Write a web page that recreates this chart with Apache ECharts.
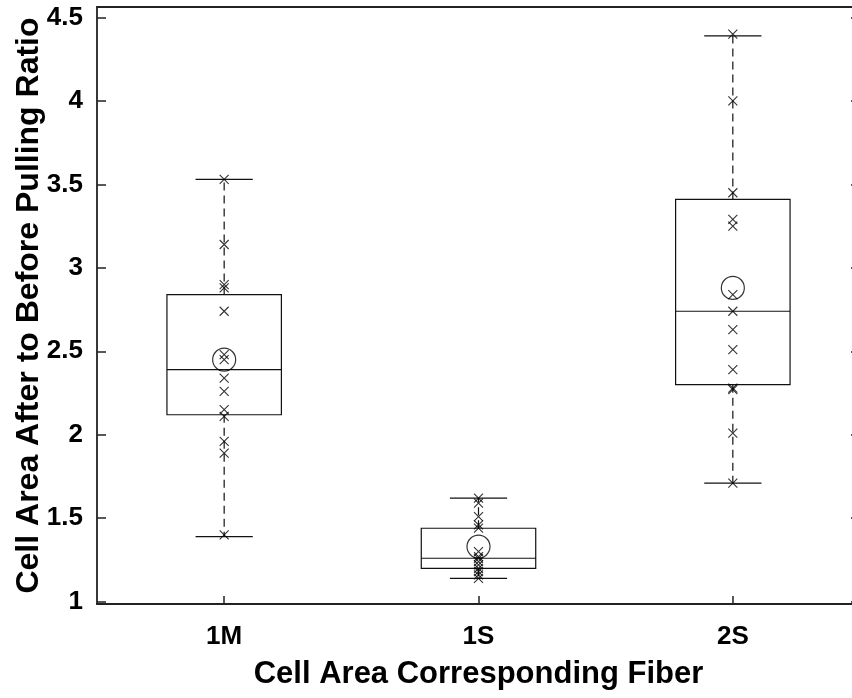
<!DOCTYPE html>
<html>
<head>
<meta charset="utf-8">
<script src="https://cdn.jsdelivr.net/npm/echarts@6/dist/echarts.min.js"></script>
<style>
  html, body { margin: 0; padding: 0; background: #fff; overflow: hidden; width: 852px; height: 698px; }
  #chart { width: 860px; height: 698px; }
</style>
</head>
<body>
<div id="chart"></div>
<script>
// ---- data ----
var categories = ['1M', '1S', '2S'];
var boxMin    = [1.39, 1.14, 1.71];
var boxQ1     = [2.12, 1.20, 2.30];
var boxMedian = [2.39, 1.26, 2.74];
var boxQ3     = [2.84, 1.44, 3.41];
var boxMax    = [3.53, 1.62, 4.39];
var means     = [2.45, 1.33, 2.88];
var points1M = [3.53, 3.14, 2.90, 2.88, 2.74, 2.48, 2.45, 2.34, 2.26, 2.15, 2.11, 1.96, 1.89, 1.40];
var points1S = [1.62, 1.59, 1.51, 1.46, 1.44, 1.30, 1.27, 1.26, 1.24, 1.22, 1.20, 1.18, 1.16, 1.14];
var points2S = [4.40, 4.00, 3.45, 3.29, 3.25, 2.84, 2.74, 2.63, 2.51, 2.39, 2.28, 2.27, 2.01, 1.71];
var yTicks = [1, 1.5, 2, 2.5, 3, 3.5, 4, 4.5];
var yMin = 0.986, yMax = 4.563;
var xTitle = 'Cell Area Corresponding Fiber';
var yTitle = 'Cell Area After to Before Pulling Ratio';

// ---- build series data ----
var boxData = categories.map(function (c, i) {
  return [i, boxMin[i], boxQ1[i], boxMedian[i], boxQ3[i], boxMax[i]];
});
var pointGroups = [points1M, points1S, points2S];
var scatterData = [];
pointGroups.forEach(function (arr, i) {
  arr.forEach(function (v) { scatterData.push([i, v]); });
});
var meanData = means.map(function (v, i) { return [i, v]; });

var FONT = "'Liberation Sans', Arial, Helvetica, sans-serif";
var AXIS_COLOR = '#222222';

function renderBox(params, api) {
  var idx = api.value(0);
  var vMin = api.value(1), q1 = api.value(2), med = api.value(3), q3 = api.value(4), vMax = api.value(5);
  var pMin = api.coord([idx, vMin]);
  var pQ1 = api.coord([idx, q1]);
  var pMed = api.coord([idx, med]);
  var pQ3 = api.coord([idx, q3]);
  var pMax = api.coord([idx, vMax]);
  var band = api.size([1, 0])[0];
  var hw = band * 0.225;
  var cw = band * 0.1125;
  var x = pMed[0];
  var solid = { stroke: '#111', lineWidth: 1.2, fill: null };
  var dashed = { stroke: '#111', lineWidth: 1.2, lineDash: [8, 5] };
  return {
    type: 'group',
    children: [
      { type: 'line', shape: { x1: x, y1: pQ3[1], x2: x, y2: pMax[1] }, style: dashed },
      { type: 'line', shape: { x1: x, y1: pQ1[1], x2: x, y2: pMin[1] }, style: dashed },
      { type: 'line', shape: { x1: x - cw, y1: pMax[1], x2: x + cw, y2: pMax[1] }, style: solid },
      { type: 'line', shape: { x1: x - cw, y1: pMin[1], x2: x + cw, y2: pMin[1] }, style: solid },
      { type: 'rect', shape: { x: x - hw, y: pQ3[1], width: hw * 2, height: pQ1[1] - pQ3[1] }, style: { stroke: '#111', lineWidth: 1.2, fill: 'rgba(0,0,0,0)' } },
      { type: 'line', shape: { x1: x - hw, y1: pMed[1], x2: x + hw, y2: pMed[1] }, style: solid }
    ]
  };
}

var chart = echarts.init(document.getElementById('chart'), null, { renderer: 'canvas' });
var option = {
  backgroundColor: '#ffffff',
  animation: false,
  grid: { left: 97, top: 7, width: 763, height: 597, containLabel: false, outerBoundsMode: 'none' },
  xAxis: [
    {
      type: 'category',
      data: categories,
      position: 'bottom',
      boundaryGap: true,
      axisLine: { show: true, lineStyle: { color: AXIS_COLOR, width: 1.8 } },
      axisTick: { show: true, inside: true, length: 8, alignWithLabel: true, lineStyle: { color: AXIS_COLOR, width: 1.5 } },
      axisLabel: { show: true, margin: 20, color: '#000', fontFamily: FONT, fontWeight: 'bold', fontSize: 26 },
      splitLine: { show: false },
      name: xTitle,
      nameLocation: 'middle',
      nameGap: 55,
      nameMoveOverlap: false,
      nameTextStyle: { color: '#000', fontFamily: FONT, fontWeight: 'bold', fontSize: 31 }
    },
    {
      type: 'category',
      data: categories,
      position: 'top',
      boundaryGap: true,
      axisLine: { show: true, lineStyle: { color: AXIS_COLOR, width: 1.8 } },
      axisTick: { show: false },
      axisLabel: { show: false },
      splitLine: { show: false }
    }
  ],
  yAxis: [
    {
      type: 'value',
      min: yMin,
      max: yMax,
      position: 'left',
      axisLine: { show: true, lineStyle: { color: AXIS_COLOR, width: 1.8 } },
      axisTick: { show: true, inside: true, length: 9, customValues: yTicks, lineStyle: { color: AXIS_COLOR, width: 1.5 } },
      axisLabel: { show: true, margin: 14, customValues: yTicks, color: '#000', fontFamily: FONT, fontWeight: 'bold', fontSize: 26,
        formatter: function (v) { return String(Math.round(v * 10) / 10); } },
      splitLine: { show: false },
      name: yTitle,
      nameLocation: 'middle',
      nameGap: 52,
      nameMoveOverlap: false,
      nameTextStyle: { color: '#000', fontFamily: FONT, fontWeight: 'bold', fontSize: 32 }
    },
    {
      type: 'value',
      min: yMin,
      max: yMax,
      position: 'right',
      axisLine: { show: true, lineStyle: { color: AXIS_COLOR, width: 1.8 } },
      axisTick: { show: true, inside: true, length: 9, customValues: yTicks, lineStyle: { color: AXIS_COLOR, width: 1.5 } },
      axisLabel: { show: false },
      splitLine: { show: false }
    }
  ],
  series: [
    {
      type: 'custom',
      renderItem: renderBox,
      data: boxData,
      encode: { x: 0, y: [1, 2, 3, 4, 5] },
      z: 2,
      silent: true
    },
    {
      type: 'scatter',
      data: scatterData,
      symbol: 'path://M0,0L10,10M10,0L0,10',
      symbolSize: 9,
      itemStyle: { color: 'rgba(0,0,0,0)', borderColor: '#000', borderWidth: 1.1 },
      z: 3,
      silent: true
    },
    {
      type: 'scatter',
      data: meanData,
      symbol: 'circle',
      symbolSize: 23,
      itemStyle: { color: 'rgba(0,0,0,0)', borderColor: '#000', borderWidth: 1.2 },
      z: 4,
      silent: true
    }
  ]
};
chart.setOption(option);
</script>
</body>
</html>
